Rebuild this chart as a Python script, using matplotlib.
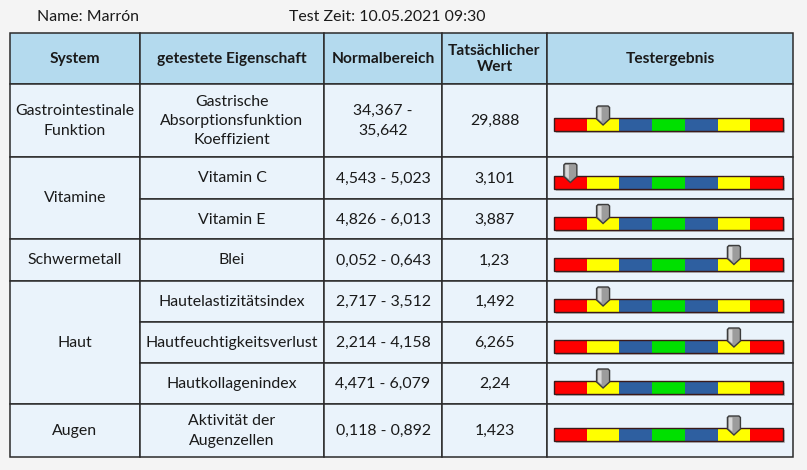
import matplotlib
matplotlib.use("Agg")
import matplotlib.pyplot as plt
from matplotlib.patches import Rectangle, Polygon

plt.rcParams['font.family'] = ['Lato', 'DejaVu Sans']

# data
systems = ["Gastrointestinale\nFunktion", "Vitamine", "Schwermetall", "Haut", "Augen"]
system_spans = [1, 2, 1, 3, 1]
properties = ["Gastrische\nAbsorptionsfunktion\nKoeffizient", "Vitamin C", "Vitamin E", "Blei",
              "Hautelastizitätsindex", "Hautfeuchtigkeitsverlust", "Hautkollagenindex",
              "Aktivität der\nAugenzellen"]
normal_ranges = ["34,367 -\n35,642", "4,543 - 5,023", "4,826 - 6,013", "0,052 - 0,643",
                 "2,717 - 3,512", "2,214 - 4,158", "4,471 - 6,079", "0,118 - 0,892"]
actual_values = ["29,888", "3,101", "3,887", "1,23", "1,492", "6,265", "2,24", "1,423"]
result_segment = [1, 0, 1, 5, 1, 5, 1, 5]
headers = ["System", "getestete Eigenschaft", "Normalbereich", "Tatsächlicher\nWert", "Testergebnis"]
segment_colors = ["#ff0000", "#ffff00", "#2e5fa0", "#00e000", "#2e5fa0", "#ffff00", "#ff0000"]

col_x = [10, 140, 324, 442, 547, 793]
row_y = [33, 84, 157, 199, 239, 281, 322, 363, 404, 457]

fig = plt.figure(figsize=(8.07, 4.70), dpi=100)
fig.patch.set_facecolor("#f4f4f4")
ax = fig.add_axes([0, 0, 1, 1])
ax.set_xlim(0, 807)
ax.set_ylim(470, 0)
ax.axis("off")

fs = 11.4
line_c = "#2b2b2b"


def cell(x0, x1, y0, y1, text, fc, bold=False, size=fs, ls=1.5):
    ax.add_patch(Rectangle((x0, y0), x1 - x0, y1 - y0, facecolor=fc, edgecolor=line_c, lw=1.1))
    if text:
        ax.text((x0 + x1) / 2, (y0 + y1) / 2 + 0.5, text, ha="center", va="center", fontsize=size,
                fontweight="bold" if bold else "normal", color="#1a1a1a", linespacing=ls)


ax.text(37, 17, "Name: Marrón", fontsize=fs, va="center", color="#1a1a1a")
ax.text(289, 17, "Test Zeit: 10.05.2021 09:30", fontsize=fs, va="center", color="#1a1a1a")

# header
for j, h in enumerate(headers):
    cell(col_x[j], col_x[j + 1], row_y[0], row_y[1], h, "#b4daee", bold=True, size=fs - 0.2, ls=1.2)

body_fc = "#eaf3fb"
# system column (merged)
r = 0
for s, span in zip(systems, system_spans):
    cell(col_x[0], col_x[1], row_y[r + 1], row_y[r + 1 + span], s, body_fc)
    r += span

for i in range(len(properties)):
    y0, y1 = row_y[i + 1], row_y[i + 2]
    cell(col_x[1], col_x[2], y0, y1, properties[i], body_fc)
    cell(col_x[2], col_x[3], y0, y1, normal_ranges[i], body_fc)
    cell(col_x[3], col_x[4], y0, y1, actual_values[i], body_fc)
    cell(col_x[4], col_x[5], y0, y1, "", body_fc)

    # result bar
    bx0, bx1 = 554, 783
    bh = 13
    by = (y0 + y1) / 2 + 4 - bh / 2
    seg_w = (bx1 - bx0) / len(segment_colors)
    ax.add_patch(Rectangle((bx0 + 2, by + 2), bx1 - bx0, bh, facecolor="#9a9a9a", edgecolor="none", alpha=0.6))
    for k, c in enumerate(segment_colors):
        ax.add_patch(Rectangle((bx0 + k * seg_w, by), seg_w, bh, facecolor=c, edgecolor="none"))
    ax.add_patch(Rectangle((bx0, by), bx1 - bx0, bh, facecolor="none", edgecolor="#3a1a1a", lw=1.0))

    # marker
    mx = bx0 + (result_segment[i] + 0.5) * seg_w
    top, shoulder, tip, hw = by - 12, by + 1, by + 7, 6.5
    pts = [(mx - hw, top + 1.5), (mx - hw + 1.5, top), (mx + hw - 1.5, top), (mx + hw, top + 1.5),
           (mx + hw, shoulder), (mx, tip), (mx - hw, shoulder)]
    ax.add_patch(Polygon(pts, closed=True, facecolor="#9c9c9c", edgecolor="#3c3c3c", lw=1.0, zorder=5))
    ax.add_patch(Polygon([(mx - hw + 1.5, top + 1.5), (mx - 1.5, top + 1.5), (mx - 1.5, shoulder + 2.5),
                          (mx - hw + 1.5, shoulder - 0.5)],
                         closed=True, facecolor="#d8d8d8", edgecolor="none", zorder=6))

fig.savefig("out.png", dpi=100, facecolor=fig.get_facecolor())
